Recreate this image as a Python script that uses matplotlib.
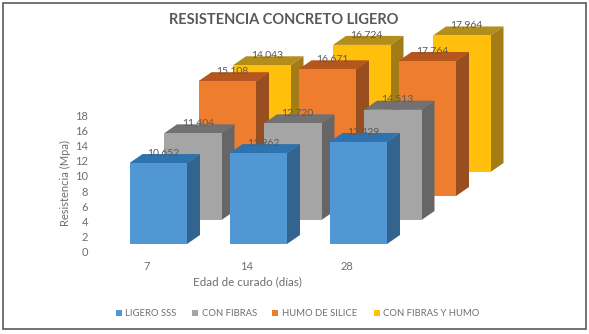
import matplotlib
matplotlib.use("Agg")
import matplotlib.pyplot as plt
from matplotlib.patches import Polygon, Rectangle

edades = ["7", "14", "28"]
series = ["LIGERO SSS", "CON FIBRAS", "HUMO DE SILICE", "CON FIBRAS Y HUMO"]
ligero = [10.652, 11.962, 13.429]
fibras = [11.404, 12.720, 14.513]
humo = [15.108, 16.671, 17.764]
fibras_humo = [14.043, 16.724, 17.964]
valores = [ligero, fibras, humo, fibras_humo]

frente = ["#5097D3", "#A5A5A5", "#EE7D2E", "#FFBF0A"]
arriba = ["#2F73AE", "#717171", "#B4561E", "#B48E1A"]
lado = ["#33648F", "#666666", "#984E1E", "#A47C16"]

W, H = 589, 334
fig = plt.figure(figsize=(W / 100, H / 100), dpi=100, facecolor="white")
plt.rcParams["font.family"] = ["Lato", "DejaVu Sans"]
gris = "#6E6E6E"

# axes placed in pixels: y=0 sits at 252, one unit is 7.6 px, one group is 100 px
PX_Y = 7.6
PX_X = 100.0
x0_px, x1_px = 92, 540
y0_px, y1_px = 252, 10
ax = fig.add_axes([x0_px / W, 1 - y0_px / H, (x1_px - x0_px) / W, (y0_px - y1_px) / H])
ax.set_xlim((x0_px - 147) / PX_X, (x1_px - 147) / PX_X)
ax.set_ylim(0, (y0_px - y1_px) / PX_Y)
ax.patch.set_alpha(0)
for s in ax.spines.values():
    s.set_visible(False)

ancho = 0.575
inicio = -0.175      # bar left edge relative to the tick
paso_x = 0.345       # shift from one series to the next
paso_y = 24 / PX_Y
base = 8 / PX_Y
prof_x = 0.13
prof_y = 9 / PX_Y

for j in range(3, -1, -1):
    for i, v in enumerate(valores[j]):
        izq = i + inicio + j * paso_x
        der = izq + ancho
        abajo = base + j * paso_y
        tope = abajo + v
        z = 10 - j
        ax.add_patch(Polygon([(izq, tope), (der, tope), (der + prof_x, tope + prof_y), (izq + prof_x, tope + prof_y)],
                             facecolor=arriba[j], edgecolor="none", zorder=z))
        ax.add_patch(Polygon([(der, abajo), (der + prof_x, abajo + prof_y), (der + prof_x, tope + prof_y), (der, tope)],
                             facecolor=lado[j], edgecolor="none", zorder=z))
        ax.bar(izq, v, width=ancho, bottom=abajo, align="edge", color=frente[j], zorder=z)
        ax.text(izq + ancho / 2 + 0.05, tope + prof_y + 0.15, f"{v:.3f}".replace(".", ","),
                ha="center", va="center", fontsize=7.5, color="#595959", zorder=20)

ax.set_yticks(range(0, 20, 2))
ax.set_xticks(range(len(edades)))
ax.set_xticklabels(edades)
ax.tick_params(axis="both", length=0, labelsize=8, labelcolor=gris)
ax.tick_params(axis="y", pad=3)
ax.tick_params(axis="x", pad=6.5)

fig.text(283.5 / W, 1 - 20 / H, "RESISTENCIA CONCRETO LIGERO", ha="center", va="center",
         fontsize=10.5, fontweight="bold", color="#595959")
fig.text(65 / W, 1 - 183 / H, "Resistencia (Mpa)", rotation=90, ha="center", va="center", fontsize=8, color=gris)
fig.text(247.5 / W, 1 - 282 / H, "Edad de curado (días)", ha="center", va="center", fontsize=8.4, color=gris)

# legend placed by hand since the swatches are tiny and spaced unevenly
marca_x = [116, 192, 272, 374]
texto_x = [125, 202, 282, 383]
for c, mx, tx, nombre in zip(frente, marca_x, texto_x, series):
    fig.add_artist(Rectangle((mx / W, 1 - 316 / H), 6 / W, 6 / H, transform=fig.transFigure, facecolor=c, edgecolor="none"))
    fig.text(tx / W, 1 - 313 / H, nombre, ha="left", va="center", fontsize=6.8, color=gris)

# outer frame
fig.add_artist(Rectangle((2.5 / W, 1 - 329 / H), 583.5 / W, 326 / H, transform=fig.transFigure,
                         fill=False, edgecolor="#5A5A5A", linewidth=1.2))

fig.savefig("out.png", dpi=100)
